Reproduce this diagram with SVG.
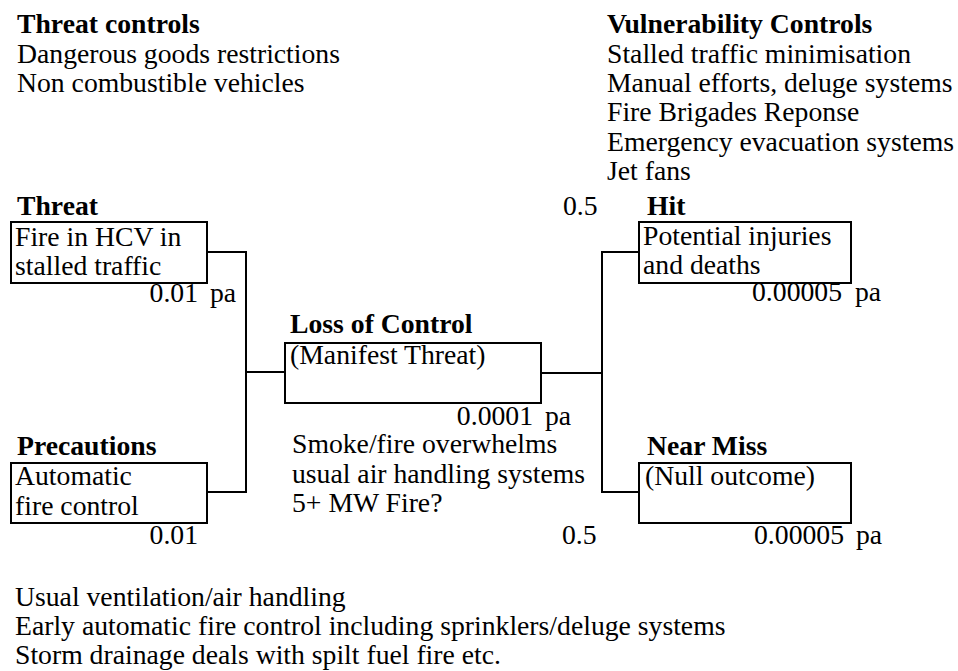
<svg xmlns="http://www.w3.org/2000/svg" width="958" height="671" viewBox="0 0 958 671">
<style>
text{font-family:"Liberation Serif","Times New Roman",Times,"DejaVu Serif",serif;font-size:27.7px;fill:#000}
.b{font-weight:bold}
.e{text-anchor:end}
rect{fill:#fff;stroke:#000;stroke-width:2}
.c{fill:none;stroke:#000;stroke-width:2}
</style>
<rect x="0" y="0" width="958" height="671" style="stroke:none"/>
<g id="threat-controls">
<text class="b" x="17" y="33">Threat controls</text>
<text x="17" y="63">Dangerous goods restrictions</text>
<text x="17" y="92">Non combustible vehicles</text>
</g>
<g id="vulnerability-controls">
<text class="b" x="607" y="33">Vulnerability Controls</text>
<text x="607" y="63">Stalled traffic minimisation</text>
<text x="607" y="92">Manual efforts, deluge systems</text>
<text x="607" y="121">Fire Brigades Reponse</text>
<text x="607" y="151">Emergency evacuation systems</text>
<text x="607" y="180">Jet fans</text>
</g>
<g id="connectors">
<polyline class="c" points="207,252 246,252 246,492 207,492"/>
<line class="c" x1="246" y1="372" x2="285" y2="372"/>
<line class="c" x1="541" y1="373" x2="602" y2="373"/>
<polyline class="c" points="639,252 602,252 602,492 639,492"/>
</g>
<g id="threat">
<text class="b" x="17" y="215">Threat</text>
<rect x="11" y="222" width="196" height="61"/>
<text x="15" y="246">Fire in HCV in</text>
<text x="15" y="275">stalled traffic</text>
<text class="e" x="198" y="302">0.01</text>
<text x="210" y="302">pa</text>
</g>
<g id="precautions">
<text class="b" x="17" y="455">Precautions</text>
<rect x="11" y="463" width="196" height="60"/>
<text x="15" y="485">Automatic</text>
<text x="15" y="515">fire control</text>
<text class="e" x="198" y="544">0.01</text>
</g>
<g id="loss-of-control">
<text class="b" x="290" y="333">Loss of Control</text>
<rect x="285" y="343" width="256" height="60"/>
<text x="290" y="364">(Manifest Threat)</text>
<text class="e" x="533" y="425">0.0001</text>
<text x="545" y="425">pa</text>
<text x="292" y="453">Smoke/fire overwhelms</text>
<text x="292" y="483">usual air handling systems</text>
<text x="292" y="512">5+ MW Fire?</text>
</g>
<g id="hit">
<text x="563" y="215">0.5</text>
<text class="b" x="647" y="215">Hit</text>
<rect x="639" y="222" width="212" height="61"/>
<text x="643" y="245">Potential injuries</text>
<text x="643" y="274">and deaths</text>
<text class="e" x="842" y="301">0.00005</text>
<text x="855" y="301">pa</text>
</g>
<g id="near-miss">
<text class="b" x="647" y="455">Near Miss</text>
<rect x="639" y="463" width="212" height="60"/>
<text x="645" y="485">(Null outcome)</text>
<text x="562" y="544">0.5</text>
<text class="e" x="844" y="544">0.00005</text>
<text x="856" y="544">pa</text>
</g>
<g id="notes">
<text x="15" y="606">Usual ventilation/air handling</text>
<text x="15" y="635">Early automatic fire control including sprinklers/deluge systems</text>
<text x="15" y="664">Storm drainage deals with spilt fuel fire etc.</text>
</g>
</svg>
